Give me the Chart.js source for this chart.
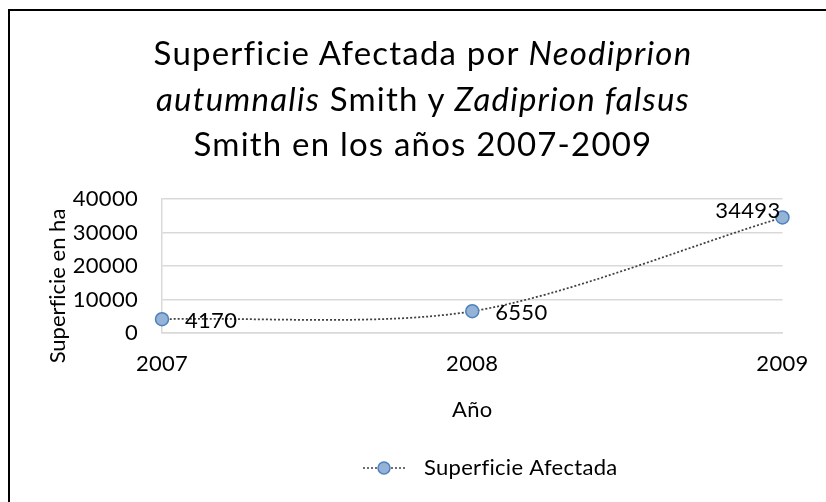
<!DOCTYPE html>
<html>
<head>
<meta charset="utf-8">
<script src="https://cdn.jsdelivr.net/npm/chart.js@4"></script>
<style>
  body { margin: 0; background: #fff; font-family: Lato, "Open Sans", sans-serif; }
  #box {
    position: absolute; left: 8px; top: 9px; width: 816px; height: 491px;
    border-left: 2px solid #000; border-top: 2px solid #000;
  }
  #title {
    position: absolute; left: 10px; top: 30px; width: 826px;
    text-align: center; font-size: 33px; line-height: 45.5px; color: #000;
    letter-spacing: 1.2px; font-variant-ligatures: none;
  }
  #ytitle {
    position: absolute; left: -43px; top: 273px; width: 200px; height: 26px;
    line-height: 26px; text-align: center; font-size: 22px; color: #000;
    transform: rotate(-90deg); font-variant-ligatures: none; white-space: nowrap;
  }
  #chart { position: absolute; left: 0; top: 0; }
</style>
</head>
<body>
<div id="box"><canvas id="chart" width="816" height="491"></canvas></div>
<div id="title">Superficie Afectada por <i>Neodiprion</i><br><i>autumnalis</i> Smith y <i>Zadiprion falsus</i><br>Smith en los años 2007-2009</div>
<div id="ytitle">Superficie en ha</div>
<script>
const years = ['2007', '2008', '2009'];
const superficie = [4170, 6550, 34493];
const seriesName = 'Superficie Afectada';

const font = { family: 'Lato', size: 22 };

// Legend symbol: dotted line with marker (left padding shifts it like the original)
const legendIcon = document.createElement('canvas');
legendIcon.width = 80;
legendIcon.height = 16;
(() => {
    const c = legendIcon.getContext('2d');
    c.strokeStyle = '#404040';
    c.lineWidth = 1.5;
    c.setLineDash([2, 2]);
    c.beginPath();
    c.moveTo(30, 8);
    c.lineTo(72, 8);
    c.stroke();
    c.setLineDash([]);
    c.beginPath();
    c.arc(51, 8, 6, 0, Math.PI * 2);
    c.fillStyle = '#95B3D7';
    c.fill();
    c.strokeStyle = '#4F81BD';
    c.stroke();
})();

// No "fi" ligatures, like the original font
const noLigatures = {
    id: 'noLigatures',
    beforeDraw(chart) {
        chart.ctx.letterSpacing = '0.3px';
    }
};

// Value labels next to each point
const valueLabels = {
    id: 'valueLabels',
    afterDatasetsDraw(chart) {
        const ctx = chart.ctx;
        const area = chart.chartArea;
        chart.getDatasetMeta(0).data.forEach((pt, i) => {
            const txt = String(chart.data.datasets[0].data[i]);
            ctx.save();
            ctx.font = '22px Lato';
            ctx.fillStyle = '#000';
            ctx.textBaseline = 'middle';
            const w = ctx.measureText(txt).width;
            if (pt.x + 22 + w > area.right + 20) {
                ctx.textAlign = 'right';
                ctx.fillText(txt, pt.x - 2, pt.y - 7);
            } else {
                ctx.textAlign = 'left';
                ctx.fillText(txt, pt.x + 23, pt.y + 2);
            }
            ctx.restore();
        });
    }
};

new Chart(document.querySelector('#chart'), {
    type: 'line',
    data: {
        labels: years,
        datasets: [{
            label: seriesName,
            data: superficie,
            borderColor: '#404040',
            borderWidth: 1.75,
            borderDash: [2, 2],
            tension: 0.3,
            pointRadius: 6.5,
            pointBackgroundColor: '#95B3D7',
            pointBorderColor: '#4F81BD',
            pointBorderWidth: 1.5,
            pointStyle: 'circle',
            clip: false
        }]
    },
    options: {
        responsive: false,
        animation: false,
        layout: { padding: { left: 0, right: 39, top: 188, bottom: 13 } },
        scales: {
            x: {
                offset: false,
                grid: { display: false, drawTicks: false },
                border: { display: true, color: '#D9D9D9', width: 1.5 },
                ticks: { color: '#000', font: font, padding: 18, maxRotation: 0 },
                title: { display: true, text: 'Año', color: '#000', font: font, padding: { top: 1, bottom: 24 } }
            },
            y: {
                min: 0,
                max: 40000,
                afterFit: (scale) => { scale.width = 152; },
                grid: { color: '#D9D9D9', lineWidth: 1.5, drawTicks: false },
                border: { display: true, color: '#D9D9D9', width: 1.5 },
                ticks: { stepSize: 10000, color: '#000', font: font, padding: 24, callback: (v) => String(v) },
                title: { display: false }
            }
        },
        plugins: {
            title: { display: false },
            tooltip: { enabled: false },
            legend: {
                position: 'bottom',
                fullSize: false,
                labels: {
                    color: '#000',
                    font: font,
                    usePointStyle: true,
                    pointStyleWidth: 80,
                    padding: 10,
                    generateLabels: () => [{
                        text: seriesName,
                        pointStyle: legendIcon,
                        fillStyle: '#95B3D7',
                        strokeStyle: '#4F81BD',
                        lineWidth: 0,
                        datasetIndex: 0
                    }]
                }
            }
        }
    },
    plugins: [noLigatures, valueLabels]
});
</script>
</body>
</html>
